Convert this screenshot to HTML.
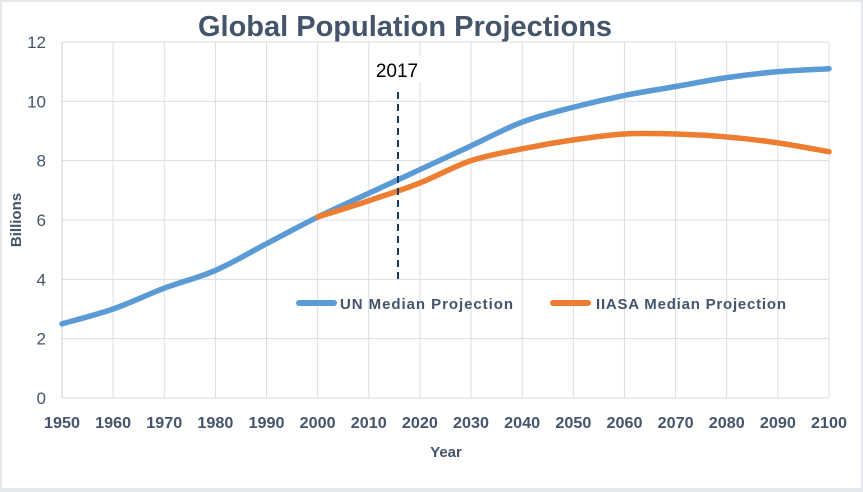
<!DOCTYPE html>
<html><head><meta charset="utf-8"><style>
html,body{margin:0;padding:0;background:#fff}
svg{display:block;font-family:"Liberation Sans",sans-serif}
</style></head><body>
<svg id="chart" width="863" height="492" viewBox="0 0 863 492">
<rect x="0" y="0" width="863" height="492" fill="#e4e7eb"/>
<rect x="2" y="2" width="859" height="486" fill="#fff"/>
<text x="405" y="36" text-anchor="middle" font-size="29" font-weight="bold" fill="#44546a">Global Population Projections</text>
<g id="grid"></g><g id="axes"></g><g id="series"></g>
<line x1="398" y1="92" x2="398" y2="282" stroke="#1f3864" stroke-width="2" stroke-dasharray="7,5"/>
<rect x="370" y="56" width="55" height="26" fill="#fff"/>
<text x="397" y="77" text-anchor="middle" font-size="19" fill="#000">2017</text>
<g>
<line x1="299" y1="303" x2="334" y2="303" stroke="#5b9bd5" stroke-width="6" stroke-linecap="round"/>
<text x="340" y="309" font-size="15" font-weight="bold" fill="#44546a" textLength="173">UN Median Projection</text>
<line x1="553" y1="303" x2="588" y2="303" stroke="#ed7d31" stroke-width="6" stroke-linecap="round"/>
<text x="596" y="309" font-size="15" font-weight="bold" fill="#44546a" textLength="190">IIASA Median Projection</text>
</g>
<text x="446" y="457" text-anchor="middle" font-size="15" font-weight="bold" fill="#44546a">Year</text>
<text transform="translate(21,220) rotate(-90)" text-anchor="middle" font-size="15" font-weight="bold" fill="#44546a">Billions</text>
</svg>
<script>
const years=[1950,1960,1970,1980,1990,2000,2010,2020,2030,2040,2050,2060,2070,2080,2090,2100];
const unValues=[2.5,3.0,3.7,4.3,5.2,6.1,6.9,7.7,8.5,9.3,9.8,10.2,10.5,10.8,11.0,11.1];
const iiasaYears=[2000,2010,2020,2030,2040,2050,2060,2070,2080,2090,2100];
const iiasaValues=[6.1,6.65,7.25,8.0,8.4,8.7,8.9,8.9,8.8,8.6,8.3];
const yTicks=[0,2,4,6,8,10,12];
const NS="http://www.w3.org/2000/svg";
const X0=62,X1=829,Y0=398,Y1=42;
const xs=v=>X0+(v-1950)/150*(X1-X0);
const ys=v=>Y0-v/12*(Y0-Y1);
function mk(t,a,p){const e=document.createElementNS(NS,t);for(const k in a)e.setAttribute(k,a[k]);p.appendChild(e);return e;}
const grid=document.getElementById('grid'),axes=document.getElementById('axes'),ser=document.getElementById('series');
years.forEach(y=>{
 const l=mk('line',{x1:xs(y),x2:xs(y),y1:Y1,y2:Y0,stroke:'#d9dde3','stroke-width':1},grid);
 
 
 const t=mk('text',{x:xs(y),y:428,'text-anchor':'middle','font-size':16,'font-weight':'bold',fill:'#44546a',textLength:36,lengthAdjust:'spacingAndGlyphs'},axes);
 t.textContent=y;
 
 
});
yTicks.forEach(v=>{
 const l=mk('line',{x1:X0,x2:X1,y1:ys(v),y2:ys(v),stroke:'#d9dde3','stroke-width':1},grid);
 
 
 const t=mk('text',{x:46,y:ys(v)+6,'text-anchor':'end','font-size':17,fill:'#44546a'},axes);
 t.textContent=v;
 
 
});
const ax=mk('line',{x1:X0,x2:X0,y1:Y1,y2:Y0,stroke:'#c9cfd8','stroke-width':1},axes);


function path(xv,yv){
 const p=xv.map((x,i)=>[xs(x),ys(yv[i])]);
 let d='M'+p[0][0]+','+p[0][1];
 for(let i=0;i<p.length-1;i++){
  const a=p[Math.max(i-1,0)],b=p[i],c=p[i+1],e=p[Math.min(i+2,p.length-1)];
  d+=' C'+(b[0]+(c[0]-a[0])/6)+','+(b[1]+(c[1]-a[1])/6)+' '+(c[0]-(e[0]-b[0])/6)+','+(c[1]-(e[1]-b[1])/6)+' '+c[0]+','+c[1];
 }
 return d;
}
const un=mk('path',{d:path(years,unValues),fill:'none',stroke:'#5b9bd5','stroke-width':5.5,'stroke-linecap':'round'},ser);


const ii=mk('path',{d:path(iiasaYears,iiasaValues),fill:'none',stroke:'#ed7d31','stroke-width':5.5,'stroke-linecap':'round'},ser);


</script>
</body></html>
